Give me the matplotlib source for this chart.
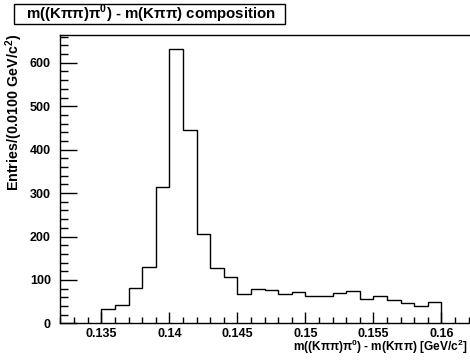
import numpy as np
import matplotlib
matplotlib.use("Agg")
import matplotlib.pyplot as plt
from matplotlib.ticker import MultipleLocator
from matplotlib.patches import Rectangle

plt.rcParams['font.family'] = ['Liberation Sans', 'DejaVu Sans']
plt.rcParams['font.weight'] = 'bold'
plt.rcParams['mathtext.fontset'] = 'custom'
plt.rcParams['mathtext.rm'] = 'Liberation Sans:bold'
plt.rcParams['mathtext.bf'] = 'Liberation Sans:bold'

# bin edges and entries per bin
bin_edges = np.round(np.arange(0.135, 0.1605, 0.001), 3)
entries = [33, 42, 81, 130, 314, 632, 445, 207, 128, 107,
           68, 79, 77, 68, 73, 63, 63, 69, 74, 57,
           62, 55, 48, 40, 49]

title = "m((Kππ)π$^{\\mathbf{0}}$) - m(Kππ) composition"
xlabel = "m((Kππ)π$^{\\mathbf{0}}$) - m(Kππ) [GeV/c$^{\\mathbf{2}}$]"
ylabel = "Entries/(0.0100 GeV/c$^{\\mathbf{2}}$)"

fig = plt.figure(figsize=(4.7, 3.62), dpi=100)
ax = fig.add_axes([0.1287, 0.1066, 0.8713, 0.7967])

ax.stairs(entries, bin_edges, color='black', linewidth=1.0)

ax.set_xlim(0.132, 0.1621)
ax.set_ylim(0, 664)

ax.xaxis.set_major_locator(MultipleLocator(0.005))
ax.xaxis.set_minor_locator(MultipleLocator(0.001))
ax.yaxis.set_major_locator(MultipleLocator(100))
ax.yaxis.set_minor_locator(MultipleLocator(20))
ax.xaxis.set_major_formatter(plt.FuncFormatter(lambda v, p: f"{v:g}"))

ax.tick_params(axis='x', which='major', direction='in', length=8, width=1, pad=3, labelsize=9)
ax.tick_params(axis='x', which='minor', direction='in', length=4, width=1)
ax.tick_params(axis='y', which='major', direction='in', length=12, width=1, pad=7, labelsize=9)
ax.tick_params(axis='y', which='minor', direction='in', length=6, width=1)
for lab in ax.get_xticklabels() + ax.get_yticklabels():
    lab.set_fontweight('bold')

ax.spines['right'].set_visible(False)
for s in ['left', 'bottom', 'top']:
    ax.spines[s].set_linewidth(1.0)

fig.text(0.995, 0.041, xlabel, ha='right', va='center', fontsize=8.6, fontweight='bold')
fig.text(0.030, 0.905, ylabel, ha='center', va='top', rotation=90, fontsize=10.3, fontweight='bold')

# title box
fig.patches.append(Rectangle((0.0298, 0.934), 0.576, 0.055, transform=fig.transFigure,
                             facecolor='white', edgecolor='black', linewidth=1))
fig.text(0.0553, 0.961, title, ha='left', va='center', fontsize=10.8, fontweight='bold')

fig.savefig("out.png", dpi=100)
